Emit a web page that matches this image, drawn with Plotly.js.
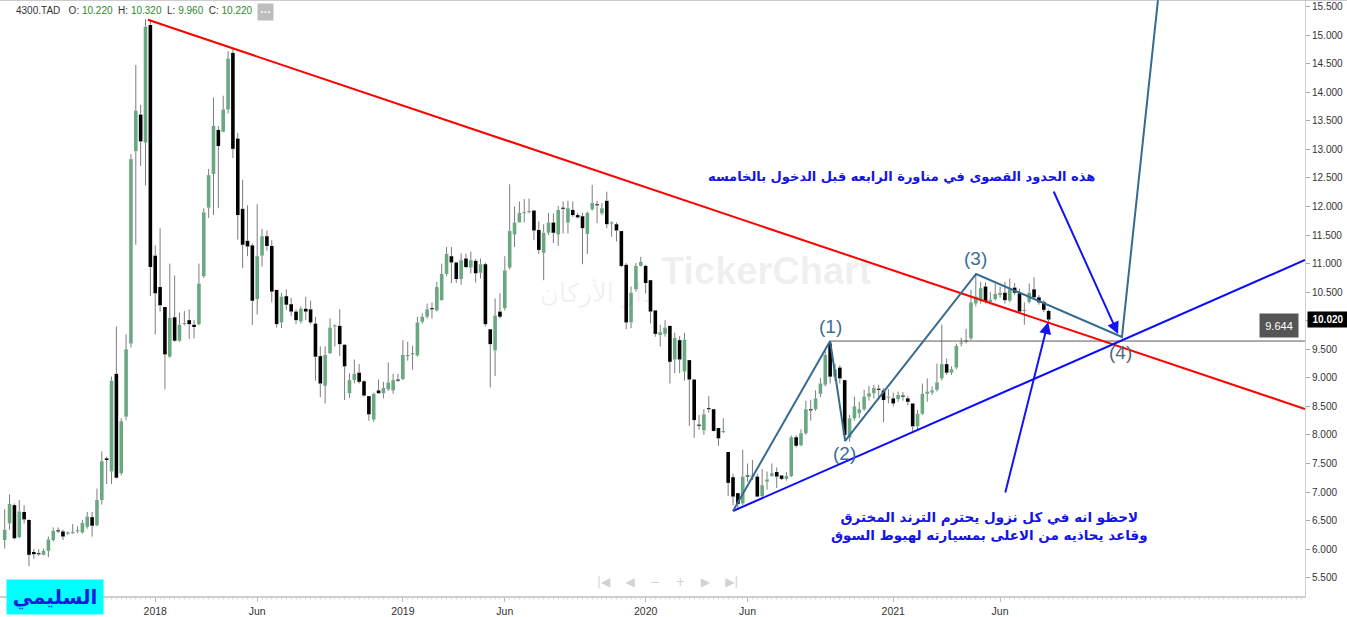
<!DOCTYPE html>
<html><head><meta charset="utf-8">
<script src="https://cdn.plot.ly/plotly-3.0.1.min.js"></script>
<style>html,body{margin:0;padding:0;background:#fff;} #chart{width:1347px;height:617px;}</style>
</head><body><div id="chart"></div>
<script>
// Weekly candles, 4300.TAD
const open = [6.16,6.45,6.77,6.21,6.65,6.51,5.95,5.92,5.90,5.97, 6.16,6.33,6.31,6.27,6.28,6.31,6.29,6.39,6.56,6.42, 6.86,7.59,7.36,9.07,7.33,8.32,9.60,12.97,13.61,13.12, 15.18,11.14,10.59,10.24,9.37,10.06,9.65,9.94,10.01,9.93, 9.94,10.78,11.98,12.57,13.34,13.31,13.70,14.69,13.19,11.96, 11.40,11.32,10.38,11.14,11.48,11.31,10.54,9.97,10.43,10.29, 10.16,9.99,10.21,10.20,9.95,9.38,8.86,9.43,9.90,9.91, 9.58,8.73,8.96,9.09,8.94,8.68,8.27,8.78,8.73,8.80, 8.78,8.96,8.98,9.38,9.41,9.39,9.98,10.07,10.22,10.18, 10.36,10.82,11.13,11.02,10.73,11.09,10.93,11.05,10.84,10.99, 9.85,9.48,10.16,10.22,10.93,11.51,11.72,11.88,11.90,11.93, 11.59,11.19,11.54,11.72,11.51,11.97,11.72,11.94,11.85,11.83, 11.52,11.95,12.03,11.88,12.10,11.70,11.69,11.57,10.98,9.97, 10.55,10.96,10.96,10.71,10.18,9.75,9.77,9.91,9.32,9.66, 9.11,9.31,8.97,8.17,8.08,8.46,8.45,8.12,8.05,7.70, 7.26,6.98,6.80,7.28,7.27,7.27,6.93,7.18,7.28,7.35, 7.29,7.23,7.28,7.96,7.82,8.03,8.44,8.45,8.72,8.88, 9.60,9.02,9.18,8.96,7.95,8.29,8.38,8.45,8.67,8.73, 8.80,8.78,8.65,8.64,8.63,8.68,8.64,8.55,8.15,8.37, 8.72,8.74,8.79,8.99,9.24,9.09,9.18,9.60,9.63,9.69, 10.30,10.35,10.60,10.33,10.38,10.45,10.49,10.35,10.58,10.48, 10.17,10.33,10.55,10.41,10.33,10.17];
const high = [6.70,6.96,6.80,6.86,6.77,6.52,6.00,6.00,6.01,6.22, 6.38,6.38,6.34,6.31,6.44,6.40,6.51,6.65,6.65,7.06, 7.71,7.62,9.02,9.90,8.29,9.76,12.92,14.48,13.78,15.28, 15.27,11.32,11.62,10.24,11.00,10.79,10.14,10.17,10.20,10.01, 11.00,11.97,12.66,13.91,13.41,13.94,14.72,14.78,13.29,12.47, 12.02,11.35,12.04,11.61,11.58,11.41,10.54,10.49,10.55,10.40, 10.20,10.25,10.42,10.35,10.07,9.55,9.55,10.04,9.93,10.20, 9.59,9.08,9.32,9.24,8.96,8.68,8.74,8.97,8.93,9.27, 9.07,9.07,9.66,9.63,9.56,10.07,10.13,10.30,10.32,10.68, 11.00,11.29,11.29,11.03,11.18,11.18,11.21,11.08,11.09,11.02, 9.85,10.39,10.48,11.13,12.39,12.00,12.09,12.13,12.14,11.93, 11.74,11.69,11.89,11.88,12.01,12.09,12.10,12.09,11.89,11.89, 11.91,12.38,12.10,12.06,12.26,11.74,11.72,11.57,11.01,10.60, 11.01,11.12,10.98,10.71,10.18,9.93,10.01,9.91,9.79,9.73, 9.79,9.31,8.97,8.35,8.45,8.68,8.45,8.12,8.29,7.70, 7.32,6.98,7.74,7.50,7.56,7.32,7.40,7.36,7.50,7.43, 7.30,7.35,7.99,8.00,8.10,8.60,8.61,8.78,9.00,9.48, 9.644,9.25,9.22,8.96,8.35,8.67,8.58,8.79,8.86,8.88, 8.88,8.82,8.80,8.74,8.76,8.75,8.68,8.55,8.44,8.90, 8.99,8.85,9.25,9.93,9.34,9.20,9.60,9.70,9.86,10.54, 10.83,10.68,10.67,10.50,10.65,10.60,10.68,10.74,10.66,10.56, 10.32,10.65,10.76,10.45,10.36,10.20];
const low = [6.01,6.34,6.17,6.19,6.45,5.70,5.83,5.88,5.89,5.86, 6.13,6.28,6.16,6.25,6.27,6.28,6.27,6.36,6.22,6.40, 6.78,7.14,7.14,7.24,7.29,8.26,9.53,11.33,12.71,12.37, 10.43,9.76,10.16,8.80,9.35,9.63,9.63,9.92,9.68,9.69, 9.92,10.75,11.80,11.85,11.97,13.30,13.63,12.85,11.42,10.92, 11.13,9.93,10.11,10.95,11.23,10.32,9.88,9.87,10.19,10.08, 9.94,9.95,10.01,9.94,8.95,8.66,8.55,9.42,9.55,9.38, 8.61,8.65,8.90,8.90,8.67,8.25,8.23,8.72,8.64,8.77, 8.72,8.93,8.96,9.30,9.14,9.37,9.95,10.04,10.04,10.16, 10.35,10.78,10.66,10.66,10.63,10.92,10.83,10.67,10.74,9.90, 8.83,9.03,10.04,10.18,10.90,11.29,11.72,11.72,11.88,11.41, 11.17,10.71,11.50,11.36,11.31,11.53,11.53,11.82,11.79,10.99, 11.17,11.93,11.71,11.85,11.62,11.47,11.39,10.94,9.85,9.87, 10.51,10.95,10.48,9.95,9.72,9.55,9.72,8.90,9.08,9.08, 8.95,8.16,7.95,8.09,8.00,8.39,8.06,7.81,8.03,6.93, 6.77,6.70,6.77,7.18,7.21,6.91,6.89,7.04,7.27,7.07, 7.21,7.20,7.26,7.78,7.80,8.00,8.25,8.42,8.66,8.85, 8.90,8.95,8.90,7.89,7.88,8.25,8.30,8.42,8.60,8.64, 8.62,8.22,8.55,8.50,8.58,8.60,8.52,8.06,8.10,8.35, 8.58,8.70,8.76,8.95,9.05,9.05,9.15,9.55,9.60,9.66, 10.25,10.30,10.30,10.28,10.35,10.40,10.30,10.32,10.45,10.13, 9.93,10.30,10.38,10.28,10.15,9.96];
const close = [6.34,6.79,6.19,6.66,6.52,5.90,5.91,5.91,5.97,6.17, 6.32,6.31,6.22,6.28,6.30,6.32,6.46,6.57,6.41,6.86, 7.54,7.56,8.95,7.25,8.24,9.50,12.83,13.68,13.14,15.15, 10.94,10.48,10.27,9.41,10.05,9.65,9.93,9.95,9.94,9.89, 10.65,11.90,12.55,13.41,13.06,13.70,14.59,13.01,11.85,11.33, 11.30,10.35,11.13,11.48,11.31,10.51,9.94,10.42,10.28,10.16, 10.01,10.21,10.16,9.97,9.37,8.90,9.40,9.88,9.91,9.59, 9.20,8.96,9.07,8.93,8.69,8.36,8.72,8.73,8.82,8.92, 8.96,8.95,9.40,9.39,9.42,9.97,10.07,10.20,10.20,10.59, 10.82,11.17,11.02,10.73,11.06,10.94,11.06,10.83,10.99,9.94, 9.59,10.09,10.07,10.88,11.57,11.72,11.89,11.89,11.92,11.58, 11.24,11.54,11.72,11.54,11.94,11.96,11.97,11.85,11.81,11.62, 11.89,12.06,12.02,11.97,11.69,11.71,11.58,10.96,9.97,10.49, 10.96,11.03,10.66,10.16,9.77,9.80,9.88,9.28,9.70,9.32, 9.67,8.97,8.26,8.16,8.36,8.45,8.07,7.94,8.07,7.16, 6.92,6.79,7.27,7.27,7.28,6.92,7.12,7.22,7.33,7.27, 7.23,7.28,7.96,7.81,8.03,8.45,8.43,8.64,8.90,9.40, 9.02,9.15,8.99,8.00,8.29,8.50,8.45,8.67,8.73,8.82, 8.79,8.61,8.67,8.55,8.70,8.67,8.58,8.15,8.37,8.72, 8.76,8.78,8.92,9.24,9.09,9.15,9.56,9.62,9.66,10.32, 10.42,10.57,10.33,10.37,10.47,10.49,10.36,10.55,10.49,10.16, 10.18,10.49,10.41,10.32,10.19,10.02];

// Axis ticks (bar positions of first week of period)
const tickBars = [31, 52, 82, 103, 132, 153, 183, 205];
const tickLabels = ['2018','Jun','2019','Jun','2020','Jun','2021','Jun'];

// Drawn studies (bar index, price)
const redLineBars = [29.5, 267.8];   const redLinePrices = [15.27, 8.455];
const blueLineBars = [150.0, 267.8]; const blueLinePrices = [6.668, 11.064];
const waveBars = [150.0, 170.0, 173.1, 200.06, 230.1, 238.0];
const wavePrices = [6.668, 9.644, 7.894, 10.819, 9.715, 16.0];
const waveLabels = ['(1)','(2)','(3)','(4)'];
const waveLabelBars = [170.0, 172.9, 199.9, 229.7];
const waveLabelPrices = [9.90, 7.666, 11.09, 9.435];
const levelPrice = 9.644; const levelBars = [170.0, 267.8];
const lastPrice = 10.020;

const noteTop = 'هذه الحدود القصوى في مناورة الرابعه قبل الدخول بالخامسه';
const noteBottom = 'لاحظو انه في كل نزول يحترم الترند المخترق<br>وقاعد يحاذيه من الاعلى بمسيارته لهبوط السوق';
const author = 'السليمي';

const bars = open.map((_, i) => i);
const isUp = open.map((o, i) => close[i] >= o);
const bodyLo = open.map((o, i) => Math.min(o, close[i]));
const bodyHi = open.map((o, i) => Math.max(o, close[i]));
const bodyLen = open.map((o, i) => Math.max(Math.abs(close[i] - o), 0.02));
const wickX = [], wickY = [];
bars.forEach(i => {
  wickX.push(i, i, null, i, i, null);
  wickY.push(low[i], bodyLo[i], null, bodyHi[i], high[i], null);
});

const traces = [
  {type:'scatter', mode:'lines', x:wickX, y:wickY, line:{color:'#7d7d7d', width:1}, hoverinfo:'skip'},
  {type:'bar', x:bars, base:bodyLo, y:bodyLen, width:0.74,
   marker:{color:isUp.map(u => u ? '#6aa882' : '#000000'), line:{width:0}}, hoverinfo:'skip'},
  {type:'scatter', mode:'lines', x:levelBars, y:[levelPrice, levelPrice], line:{color:'#5a5a5a', width:1}},
  {type:'scatter', mode:'lines', x:redLineBars, y:redLinePrices, line:{color:'#ff0000', width:2}},
  {type:'scatter', mode:'lines', x:blueLineBars, y:blueLinePrices, line:{color:'#0a0aff', width:2}},
  {type:'scatter', mode:'lines', x:waveBars, y:wavePrices, line:{color:'#356b93', width:2}}
];

const wm = 'rgba(0,0,0,0.075)';
const sp = '\u00a0';
const g = v => '<span style="color:#2b8a2b">' + v + '</span>';
const annotations = [
  {xref:'x', yref:'y', x:156.8, y:10.87, text:'<b>TickerChart</b>', showarrow:false,
   font:{family:'Liberation Sans', size:38, color:wm}},
  {xref:'x', yref:'y', x:122.0, y:10.50, text:'دار الأركان', showarrow:false,
   font:{family:'DejaVu Sans', size:26, color:'rgba(0,0,0,0.06)'}},
  {xref:'paper', yref:'paper', x:0, y:1, xanchor:'left', yanchor:'top', xshift:14, yshift:-3, showarrow:false,
   text:'4300.TAD'+sp+sp+sp+'O:'+sp+g('10.220')+sp+sp+'H:'+sp+g('10.320')+sp+sp+'L:'+sp+g('9.960')+sp+sp+'C:'+sp+g('10.220'),
   font:{family:'Liberation Sans', size:10, color:'#333'}},
  {xref:'paper', yref:'paper', x:0, y:1, xanchor:'left', yanchor:'top', xshift:257, yshift:-3, showarrow:false,
   text:'<b>···</b>', bgcolor:'#bdbdbd', width:13, height:14, font:{family:'DejaVu Sans', size:9, color:'#fff'}},
  {xref:'paper', yref:'paper', x:0, y:0, xanchor:'left', yanchor:'middle', xshift:6, yshift:-1, showarrow:false,
   text:'<b>'+author+'</b>', bgcolor:'#00ffff', width:94, height:32, font:{family:'DejaVu Sans', size:20, color:'#1a1adf'}},
  {xref:'paper', yref:'y', x:1, y:lastPrice, xanchor:'left', xshift:2, showarrow:false,
   text:'<b>'+lastPrice.toFixed(3)+'</b>', bgcolor:'#000', width:38, height:13, font:{family:'Liberation Sans', size:10, color:'#fff'}},
  {xref:'paper', yref:'y', x:1, y:levelPrice, xanchor:'right', xshift:-6, yshift:16, showarrow:false,
   text:levelPrice.toFixed(3), bgcolor:'#555', width:36, height:21, font:{family:'Liberation Sans', size:11, color:'#fff'}},
  {xref:'x', yref:'y', x:136.6, y:5.425, showarrow:false, text:'|◀'+sp+sp+sp+sp+'◀'+sp+sp+sp+sp+'−'+sp+sp+sp+sp+'+'+sp+sp+sp+sp+'▶'+sp+sp+sp+sp+'▶|',
   font:{family:'DejaVu Sans', size:12, color:'#d2d2d2'}},
  {xref:'x', yref:'y', x:184.8, y:12.518, showarrow:false, text:'<b>'+noteTop+'</b>',
   font:{family:'DejaVu Sans', size:13, color:'#1414e6'}},
  {xref:'x', yref:'y', x:202.9, y:6.405, showarrow:false, text:'<b>'+noteBottom+'</b>', align:'center',
   font:{family:'DejaVu Sans', size:13.5, color:'#1414e6'}},
  {xref:'x', yref:'y', axref:'x', ayref:'y', x:229.3, y:9.768, ax:215.9, ay:12.29, text:'', showarrow:true,
   arrowhead:2, arrowsize:1.2, arrowwidth:2, arrowcolor:'#1414f0', standoff:0},
  {xref:'x', yref:'y', axref:'x', ayref:'y', x:214.9, y:9.978, ax:206.0, ay:6.966, text:'', showarrow:true,
   arrowhead:2, arrowsize:1.2, arrowwidth:2, arrowcolor:'#1414f0', standoff:0}
];
waveLabels.forEach((t, k) => annotations.push({xref:'x', yref:'y', x:waveLabelBars[k], y:waveLabelPrices[k],
  text:t, showarrow:false, font:{family:'Liberation Sans', size:19, color: k === 3 ? '#51677a' : '#3a6e96'}}));

const layout = {
  width:1347, height:617, margin:{l:0, r:42, t:0, b:21},
  paper_bgcolor:'#fff', plot_bgcolor:'#fff', showlegend:false, barmode:'overlay', hovermode:false,
  font:{family:'Liberation Sans', color:'#333'},
  xaxis:{range:[-0.968, 267.8], tickmode:'array', tickvals:tickBars, ticktext:tickLabels,
    ticks:'outside', ticklen:4, tickcolor:'#bbb', showline:true, linecolor:'#cfcfcf', linewidth:2,
    showgrid:false, zeroline:false, tickfont:{family:'Liberation Sans', size:10.5, color:'#333'},
    minor:{ticks:'outside', dtick:1, ticklen:2, tickcolor:'#e2e2e2'}},
  yaxis:{range:[5.179, 15.617], side:'right', tick0:5.5, dtick:0.5, tickformat:'.3f',
    ticks:'outside', ticklen:4, tickcolor:'#aaa', showline:true, linecolor:'#cfcfcf', linewidth:1,
    showgrid:false, zeroline:false, tickfont:{family:'Liberation Sans', size:10, color:'#333'}},
  shapes:[{type:'line', xref:'paper', yref:'paper', x0:0, x1:1.0322, y0:1, y1:1, line:{color:'#9a9a9a', width:1}}],
  annotations:annotations
};
Plotly.newPlot('chart', traces, layout, {displayModeBar:false, staticPlot:true});
</script></body></html>
